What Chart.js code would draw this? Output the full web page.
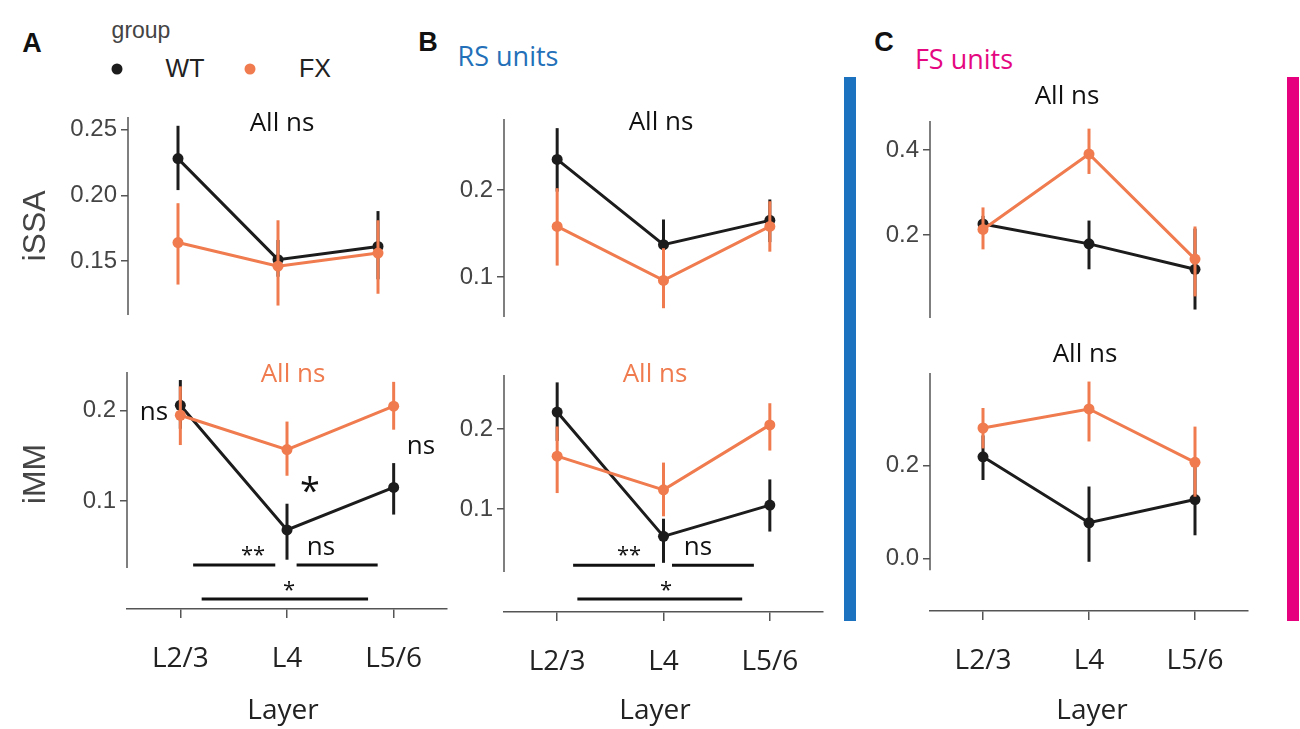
<!DOCTYPE html>
<html>
<head>
<meta charset="utf-8">
<script src="https://cdn.jsdelivr.net/npm/chart.js@4.4.0/dist/chart.umd.min.js"></script>
<style>
  html, body { margin: 0; padding: 0; background: #fff; }
  #fig { position: relative; width: 1300px; height: 729px; overflow: hidden; background: #fff; }
  .panel { position: absolute; }
  .txt { position: absolute; white-space: nowrap; line-height: 1; transform: translate(-50%, -50%); }
  .rot { transform: translate(-50%, -50%) rotate(-90deg); }
  .bar { position: absolute; }
  .dot { position: absolute; width: 11px; height: 11px; border-radius: 50%; transform: translate(-50%, -50%); }
</style>
</head>
<body>
<div id="fig"></div>
<script>
// ---- data ----
const layers = ['L2/3', 'L4', 'L5/6'];

// A: all units
const aSsaWT   = [0.228, 0.151, 0.161];
const aSsaWTlo = [0.204, 0.138, 0.136];
const aSsaWThi = [0.253, 0.166, 0.188];
const aSsaFX   = [0.164, 0.146, 0.156];
const aSsaFXlo = [0.132, 0.116, 0.125];
const aSsaFXhi = [0.194, 0.181, 0.181];

const aMmWT   = [0.206, 0.068, 0.115];
const aMmWTlo = [0.180, 0.035, 0.085];
const aMmWThi = [0.234, 0.097, 0.142];
const aMmFX   = [0.195, 0.157, 0.205];
const aMmFXlo = [0.162, 0.128, 0.179];
const aMmFXhi = [0.227, 0.188, 0.232];

// B: RS units
const bSsaWT   = [0.235, 0.137, 0.165];
const bSsaWTlo = [0.198, 0.108, 0.140];
const bSsaWThi = [0.271, 0.166, 0.189];
const bSsaFX   = [0.158, 0.096, 0.158];
const bSsaFXlo = [0.113, 0.064, 0.129];
const bSsaFXhi = [0.202, 0.133, 0.187];

const bMmWT   = [0.221, 0.066, 0.105];
const bMmWTlo = [0.185, 0.033, 0.072];
const bMmWThi = [0.258, 0.088, 0.137];
const bMmFX   = [0.166, 0.124, 0.205];
const bMmFXlo = [0.120, 0.091, 0.173];
const bMmFXhi = [0.203, 0.158, 0.232];

// C: FS units
const cSsaWT   = [0.226, 0.179, 0.119];
const cSsaWTlo = [0.205, 0.119, 0.024];
const cSsaWThi = [0.245, 0.234, 0.215];
const cSsaFX   = [0.213, 0.391, 0.143];
const cSsaFXlo = [0.166, 0.344, 0.055];
const cSsaFXhi = [0.265, 0.451, 0.220];

const cMmWT   = [0.219, 0.077, 0.127];
const cMmWTlo = [0.169, -0.007, 0.050];
const cMmWThi = [0.265, 0.155, 0.200];
const cMmFX   = [0.281, 0.322, 0.207];
const cMmFXlo = [0.237, 0.252, 0.133];
const cMmFXhi = [0.324, 0.381, 0.284];

// tick labels
const ticksASsa = [0.15, 0.20, 0.25];
const ticksAMm  = [0.1, 0.2];
const ticksBSsa = [0.1, 0.2];
const ticksBMm  = [0.1, 0.2];
const ticksCSsa = [0.2, 0.4];
const ticksCMm  = [0.0, 0.2];

// ---- styling ----
const WT_C = '#1c1c1c';
const FX_C = '#ef7b4e';
const AXIS = '#555';
const YW = 100, PAD = 24, XH = 110, PR = 10;

const fig = document.getElementById('fig');

function decor(p) {
  return {
    id: 'decor',
    beforeDatasetDraw(chart, args) {
      const ds = chart.data.datasets[args.index];
      const xs = chart.scales.x, ys = chart.scales.y, ctx = chart.ctx;
      ctx.save();
      ctx.strokeStyle = ds.borderColor;
      ctx.lineWidth = 3;
      ds.data.forEach((v, i) => {
        const px = xs.getPixelForValue(i);
        ctx.beginPath();
        ctx.moveTo(px, ys.getPixelForValue(ds.errLo[i]));
        ctx.lineTo(px, ys.getPixelForValue(ds.errHi[i]));
        ctx.stroke();
      });
      ctx.restore();
    },
    afterDraw(chart) {
      const xs = chart.scales.x, ys = chart.scales.y, ctx = chart.ctx;
      const a = chart.chartArea;
      ctx.save();
      // despined y axis
      ctx.strokeStyle = AXIS;
      ctx.lineWidth = 1.5;
      ctx.beginPath();
      ctx.moveTo(a.left, a.top);
      ctx.lineTo(a.left, p.lineMin == null ? a.bottom : ys.getPixelForValue(p.lineMin));
      ctx.stroke();
      // significance brackets
      ctx.strokeStyle = '#111';
      ctx.lineWidth = 3;
      (p.brackets || []).forEach(b => {
        const yy = ys.getPixelForValue(b[2]);
        ctx.beginPath();
        ctx.moveTo(xs.getPixelForValue(b[0]), yy);
        ctx.lineTo(xs.getPixelForValue(b[1]), yy);
        ctx.stroke();
      });
      ctx.restore();
    }
  };
}

function series(label, data, lo, hi, color, order) {
  return {
    label, data, errLo: lo, errHi: hi, order,
    borderColor: color, backgroundColor: color,
    pointBackgroundColor: color, pointBorderColor: color,
    pointBorderWidth: 0, pointRadius: 5.5, borderWidth: 3, tension: 0
  };
}

function makePanel(p) {
  const box = document.createElement('div');
  box.className = 'panel';
  const w = p.right - p.axisX + YW + PR;
  const h = (p.bottom - p.top) + PAD + (p.showX ? XH : PAD);
  box.style.left = (p.axisX - YW) + 'px';
  box.style.top = (p.top - PAD) + 'px';
  box.style.width = w + 'px';
  box.style.height = h + 'px';
  const cv = document.createElement('canvas');
  box.appendChild(cv);
  fig.appendChild(box);

  new Chart(cv.getContext('2d'), {
    type: 'line',
    data: {
      labels: layers,
      datasets: [
        series('WT', p.wt[0], p.wt[1], p.wt[2], WT_C, 2),
        series('FX', p.fx[0], p.fx[1], p.fx[2], FX_C, 1)
      ]
    },
    options: {
      responsive: true,
      maintainAspectRatio: false,
      animation: false,
      events: [],
      layout: { padding: { top: PAD, right: PR, bottom: p.showX ? 0 : PAD, left: 0 } },
      plugins: { legend: { display: false }, tooltip: { enabled: false } },
      scales: {
        x: {
          type: 'category',
          offset: true,
          display: p.showX,
          grid: { display: true, offset: false, drawOnChartArea: false, drawTicks: true,
                  tickLength: 9, color: AXIS, lineWidth: 1.5 },
          border: { display: true, color: AXIS, width: 1.5 },
          ticks: { color: '#222', padding: 24, maxRotation: 0, autoSkip: false,
                   font: { family: 'Open Sans', size: 28 } },
          afterFit: s => { s.height = p.showX ? XH : 0; }
        },
        y: {
          type: 'linear',
          min: p.yMin,
          max: p.yMax,
          grid: { display: true, drawOnChartArea: false, drawTicks: true,
                  tickLength: 7, color: AXIS, lineWidth: 1.5 },
          border: { display: false },
          ticks: { color: '#444', padding: 4, font: { family: 'Liberation Sans', size: 24 },
                   callback: v => v.toFixed(p.dec) },
          afterBuildTicks: s => { s.ticks = p.ticks.map(v => ({ value: v })); },
          afterFit: s => { s.width = YW; }
        }
      }
    },
    plugins: [decor(p)]
  });
}

const panels = [
  { axisX: 128, right: 428, top: 117, bottom: 315, yMin: 0.1088, yMax: 0.2597, dec: 2,
    ticks: ticksASsa, showX: false,
    wt: [aSsaWT, aSsaWTlo, aSsaWThi], fx: [aSsaFX, aSsaFXlo, aSsaFXhi] },
  { axisX: 127, right: 447, top: 372, bottom: 609, yMin: -0.0196, yMax: 0.2429, dec: 1,
    ticks: ticksAMm, showX: true, lineMin: 0.0258,
    brackets: [[0.12, 0.89, 0.029], [1.09, 1.85, 0.029], [0.20, 1.76, -0.0085]],
    wt: [aMmWT, aMmWTlo, aMmWThi], fx: [aMmFX, aMmFXlo, aMmFXhi] },
  { axisX: 504, right: 823, top: 119, bottom: 317, yMin: 0.0539, yMax: 0.2815, dec: 1,
    ticks: ticksBSsa, showX: false,
    wt: [bSsaWT, bSsaWTlo, bSsaWThi], fx: [bSsaFX, bSsaFXlo, bSsaFXhi] },
  { axisX: 504, right: 823, top: 375, bottom: 612, yMin: -0.0283, yMax: 0.2672, dec: 1,
    ticks: ticksBMm, showX: true, lineMin: 0.0215,
    brackets: [[0.15, 0.92, 0.030], [1.08, 1.85, 0.030], [0.19, 1.74, -0.012]],
    wt: [bMmWT, bMmWTlo, bMmWThi], fx: [bMmFX, bMmFXlo, bMmFXhi] },
  { axisX: 930, right: 1248, top: 121, bottom: 318, yMin: 0.004, yMax: 0.469, dec: 1,
    ticks: ticksCSsa, showX: false,
    wt: [cSsaWT, cSsaWTlo, cSsaWThi], fx: [cSsaFX, cSsaFXlo, cSsaFXhi] },
  { axisX: 930, right: 1248, top: 373, bottom: 611, yMin: -0.113, yMax: 0.3994, dec: 1,
    ticks: ticksCMm, showX: true, lineMin: -0.0252,
    wt: [cMmWT, cMmWTlo, cMmWThi], fx: [cMmFX, cMmFXlo, cMmFXhi] }
];
panels.forEach(makePanel);

// ---- side bars ----
function bar(x, y, w, h, color) {
  const d = document.createElement('div');
  d.className = 'bar';
  Object.assign(d.style, { left: x + 'px', top: y + 'px', width: w + 'px', height: h + 'px', background: color });
  fig.appendChild(d);
}
bar(844, 77, 12, 544, '#1c72bf');
bar(1287, 77, 12, 544, '#e6007e');

// ---- legend dots ----
function dot(x, y, color) {
  const d = document.createElement('div');
  d.className = 'dot';
  Object.assign(d.style, { left: x + 'px', top: y + 'px', background: color });
  fig.appendChild(d);
}
dot(117, 69, WT_C);
dot(250, 69, FX_C);

// ---- text ----
const SANS = "'Liberation Sans', Arial, sans-serif";
const OPEN = "'Open Sans', sans-serif";
function txt(s, x, y, size, color, family, extra) {
  const d = document.createElement('div');
  d.className = 'txt' + (extra && extra.rot ? ' rot' : '');
  d.textContent = s;
  Object.assign(d.style, {
    left: x + 'px', top: y + 'px', fontSize: size + 'px', color: color, fontFamily: family,
    fontWeight: extra && extra.bold ? 'bold' : 'normal'
  });
  fig.appendChild(d);
}
txt('A', 32, 43, 27, '#111', SANS, { bold: true });
txt('B', 428, 42, 27, '#111', SANS, { bold: true });
txt('C', 884, 42, 27, '#111', SANS, { bold: true });
txt('group', 141, 30, 23, '#444', SANS);
txt('WT', 185, 68, 25, '#222', SANS);
txt('FX', 315, 68, 25, '#222', SANS);
txt('RS units', 508, 55, 27, '#2470b8', OPEN);
txt('FS units', 964, 58, 27, '#e5077f', OPEN);
txt('iSSA', 34, 226, 32, '#444', SANS, { rot: true });
txt('iMM', 34, 474, 32, '#444', SANS, { rot: true });

txt('All ns', 282, 121, 26, '#111', OPEN);
txt('All ns', 293, 372, 26, FX_C, OPEN);
txt('All ns', 661, 120, 26, '#111', OPEN);
txt('All ns', 655, 372, 26, FX_C, OPEN);
txt('All ns', 1067, 94, 26, '#111', OPEN);
txt('All ns', 1085, 352, 26, '#111', OPEN);

txt('ns', 154, 410, 26, '#111', OPEN);
txt('ns', 421, 444, 26, '#111', OPEN);
txt('*', 310, 490, 36, '#111', OPEN);
txt('**', 253, 553, 22, '#111', OPEN);
txt('ns', 321, 545, 26, '#111', OPEN);
txt('*', 289, 588, 22, '#111', OPEN);
txt('**', 629, 553, 22, '#111', OPEN);
txt('ns', 698, 545, 26, '#111', OPEN);
txt('*', 666, 588, 22, '#111', OPEN);

txt('Layer', 283, 708, 28, '#222', OPEN);
txt('Layer', 655, 708, 28, '#222', OPEN);
txt('Layer', 1092, 708, 28, '#222', OPEN);
</script>
</body>
</html>
